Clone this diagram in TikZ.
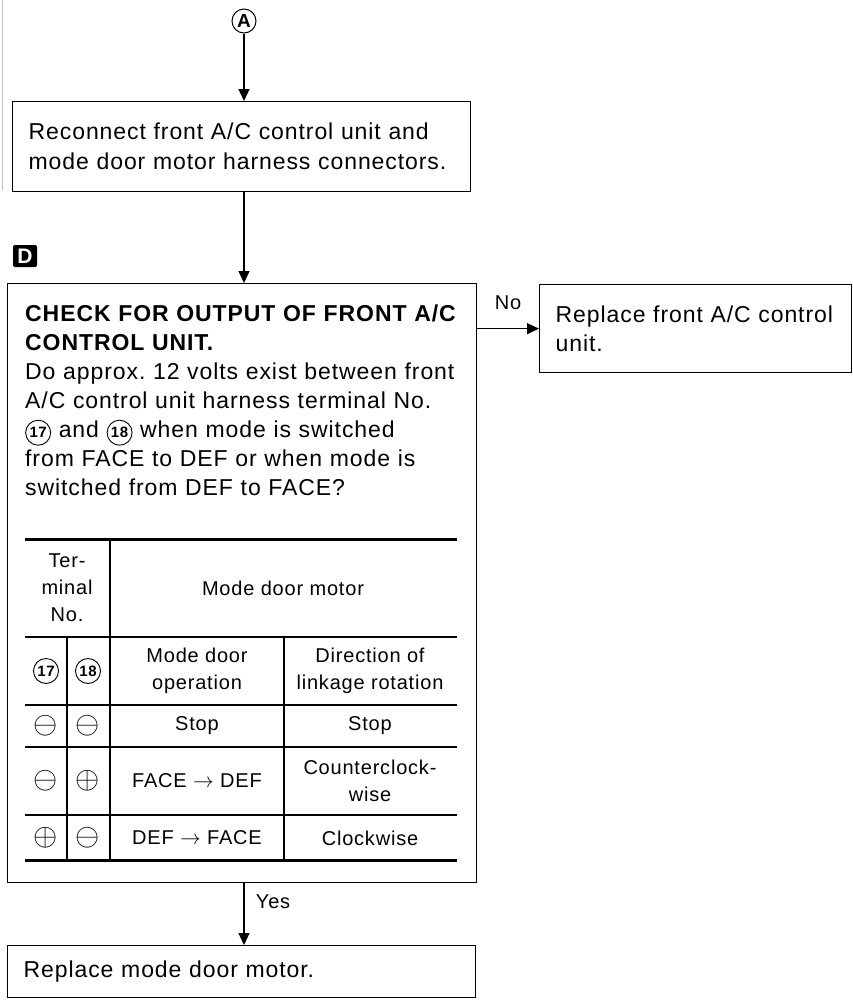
\documentclass[tikz,border=0pt]{standalone}
\usepackage{fontspec}
\setmainfont{Liberation Sans}[LetterSpace=4]
\usepackage{tikz}
\usetikzlibrary{arrows.meta,positioning}
\newcommand{\txt}{\fontsize{23}{29}\selectfont\frenchspacing}
\newcommand{\tbl}{\fontsize{20}{27}\selectfont}
\newcommand{\cnum}[1]{\tikz[baseline=(c.base)]\node[draw,circle,line width=0.9pt,minimum size=25pt,inner sep=0pt,font=\fontsize{15}{15}\selectfont\bfseries] (c) {#1};}
\newcommand{\pol}[1]{\scalebox{1.5}{$#1$}}

\begin{document}
\begin{tikzpicture}[x=1pt,y=-1pt,font=\txt,line width=1.3pt,>={Triangle[length=12pt,width=11pt]},
  box/.style={draw,rectangle,anchor=north west,align=left,inner xsep=16pt,inner ysep=0pt},
  cell/.style={align=center,font=\tbl,inner sep=0pt}]
  \useasboundingbox (0,0) rectangle (853,1002);
  % page edge
  \draw[gray!50,line width=0.8pt] (2,0) -- (2,190);
  \node[draw,circle,line width=1pt,minimum size=24pt,inner sep=0pt,font=\fontsize{19}{19}\selectfont\bfseries] (A) at (244,21) {A};
  \node[box,minimum width=458pt,minimum height=90pt,text width=426pt,font=\fontsize{23}{30}\selectfont] (recon) at (12,101)
        {Reconnect front A/C control unit and\\mode door motor harness connectors.};
  \node[fill=black,text=white,rounded corners=2pt,inner sep=0pt,minimum width=24pt,minimum height=22pt,
        font=\fontsize{21}{21}\selectfont\bfseries] (mark) at (25,256) {D};
  % check box with table
  \node[box,minimum width=469pt,minimum height=599pt] (check) at (7,283) {};
  \node[anchor=north west,align=left,text width=445pt,inner sep=0pt] (checktxt) at (25,305)
        {\textbf{CHECK FOR OUTPUT OF FRONT A/C}\\\textbf{CONTROL UNIT.}\\
         Do approx. 12 volts exist between front\\A/C control unit harness terminal No.\\
         \cnum{17} and \cnum{18} when mode is switched\\from FACE to DEF or when mode is\\
         switched from DEF to FACE?};
  \draw[line width=3pt] (25,539) -- (457,539);
  \draw[line width=3pt] (25,860) -- (457,860);
  \draw (25,637) -- (457,637);
  \draw (25,705) -- (457,705);
  \draw (25,747) -- (457,747);
  \draw (25,815) -- (457,815);
  \draw (110,539) -- (110,860);
  \draw (67,637) -- (67,860);
  \draw (284,637) -- (284,860);
  \node[cell] (hterm) at (67,588) {Ter-\\minal\\No.};
  \node[cell] (hmotor) at (283,588) {Mode door motor};
  \node[cell] (t17) at (46,671) {\cnum{17}};
  \node[cell] (t18) at (88,671) {\cnum{18}};
  \node[cell] (hop) at (197,671) {Mode door\\operation};
  \node[cell] (hdir) at (370,671) {Direction of\\linkage rotation};
  \node[cell] (a1) at (46,726) {\pol\ominus};
  \node[cell] (b1) at (88,726) {\pol\ominus};
  \node[cell] (op1) at (197,726) {Stop};
  \node[cell] (dir1) at (370,726) {Stop};
  \node[cell] (a2) at (46,781) {\pol\ominus};
  \node[cell] (b2) at (88,781) {\pol\oplus};
  \node[cell] (op2) at (197,781) {FACE $\rightarrow$ DEF};
  \node[cell] (dir2) at (370,781) {Counterclock-\\wise};
  \node[cell] (a3) at (46,838) {\pol\oplus};
  \node[cell] (b3) at (88,838) {\pol\ominus};
  \node[cell] (op3) at (197,838) {DEF $\rightarrow$ FACE};
  \node[cell] (dir3) at (370,838) {Clockwise};
  % results
  \node[box,minimum width=312pt,minimum height=88pt,text width=280pt] (rep) at (539,284)
        {Replace front A/C control\\unit.};
  \node[box,minimum width=468pt,minimum height=52pt,text width=436pt] (motor) at (7,945)
        {Replace mode door motor.};
  % connectors
  \draw[->] (A) -- (A |- recon.north);
  \draw[->] (A |- recon.south) -- (A |- check.north);
  \draw[->] (rep.west -| check.east) -- node[above=15pt,font=\tbl]{No} (rep.west);
  \draw[->] (A |- check.south) -- node[pos=0.3,right=8pt,font=\tbl]{Yes} (A |- motor.north);
\end{tikzpicture}
\end{document}
